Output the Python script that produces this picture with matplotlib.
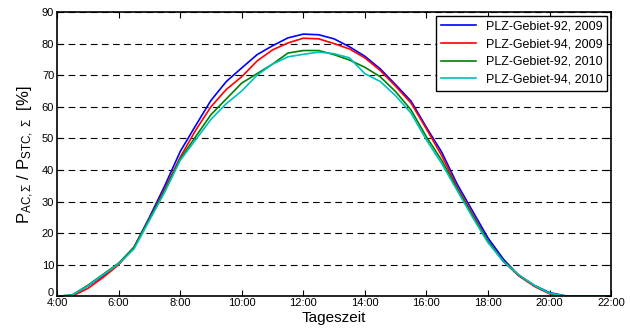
import numpy as np
import matplotlib
matplotlib.use("Agg")
import matplotlib.pyplot as plt
from matplotlib.ticker import MultipleLocator, FuncFormatter

plt.rcParams['font.family'] = ['Liberation Sans', 'DejaVu Sans']
plt.rcParams['mathtext.fontset'] = 'custom'
plt.rcParams['mathtext.rm'] = 'Liberation Sans'
plt.rcParams['mathtext.it'] = 'Liberation Sans:italic'

# time of day in hours (half-hour steps)
hours = [4.0, 4.5, 5.0, 5.5, 6.0, 6.5, 7.0, 7.5, 8.0, 8.5, 9.0, 9.5, 10.0, 10.5,
         11.0, 11.5, 12.0, 12.5, 13.0, 13.5, 14.0, 14.5, 15.0, 15.5, 16.0, 16.5,
         17.0, 17.5, 18.0, 18.5, 19.0, 19.5, 20.0, 20.5, 21.0, 21.5, 22.0]

# P_AC / P_STC in %
plz92_2009 = [0, 0.3, 3.3, 6.5, 10.3, 15.5, 25.0, 35.0, 45.8, 54.0, 62.0, 68.0, 72.3, 76.5,
              79.3, 81.8, 83.0, 82.8, 81.5, 79.0, 76.0, 72.0, 67.0, 61.8, 53.5, 45.6,
              35.5, 27.0, 18.5, 11.8, 6.6, 3.5, 1.2, 0.2, 0, 0, 0]
plz94_2009 = [0, 0.1, 2.5, 6.0, 10.0, 15.5, 24.5, 34.0, 44.0, 52.5, 60.0, 65.5, 69.5, 74.5,
              78.0, 80.2, 81.7, 81.5, 80.0, 78.3, 75.5, 71.5, 66.5, 61.2, 53.0, 44.5,
              34.5, 26.0, 17.5, 11.0, 6.5, 3.2, 0.8, 0, 0, 0, 0]
plz92_2010 = [0, 0.5, 3.5, 7.0, 10.5, 15.5, 24.5, 33.5, 43.5, 50.5, 57.5, 62.5, 67.5, 70.5,
              73.5, 77.0, 77.8, 77.8, 76.5, 74.8, 72.5, 69.5, 64.8, 59.0, 50.5, 43.0,
              34.0, 25.5, 17.5, 11.2, 6.8, 3.5, 1.0, 0, 0, 0, 0]
plz94_2010 = [0, 0.4, 3.3, 6.8, 10.3, 15.0, 24.0, 33.0, 43.0, 49.5, 56.0, 61.0, 65.0, 70.0,
              73.5, 75.8, 76.6, 77.3, 76.8, 75.5, 70.5, 68.0, 63.5, 58.0, 49.5, 42.0,
              33.5, 25.0, 17.0, 11.0, 6.8, 3.5, 1.0, 0.2, 0, 0, 0]

labels = ['PLZ-Gebiet-92, 2009', 'PLZ-Gebiet-94, 2009',
          'PLZ-Gebiet-92, 2010', 'PLZ-Gebiet-94, 2010']
series = [plz92_2009, plz94_2009, plz92_2010, plz94_2010]
colors = ['#0000ff', '#ff0000', '#008000', '#00bfbf']

xticks = [4, 6, 8, 10, 12, 14, 16, 18, 20, 22]
xticklabels = ['4:00', '6:00', '8:00', '10:00', '12:00', '14:00', '16:00', '18:00', '20:00', '22:00']

fig = plt.figure(figsize=(6.3, 3.33), dpi=100)
ax = fig.add_axes([0.0905, 0.11, 0.8795, 0.854])

for y, c, lab in zip(series, colors, labels):
    ax.plot(hours, y, color=c, lw=1.2, label=lab)

ax.set_xlim(4, 22)
ax.set_ylim(0, 90)
ax.set_xticks(xticks)
ax.set_xticklabels(xticklabels)
ax.yaxis.set_major_locator(MultipleLocator(10))
# the "0" label is drawn separately, a bit higher, so it does not run into "4:00"
ax.yaxis.set_major_formatter(FuncFormatter(lambda v, p: '' if v == 0 else f'{v:.0f}'))
ax.annotate('0', xy=(0, 0), xycoords='axes fraction', xytext=(-2.5, 2.5),
            textcoords='offset points', ha='right', va='center', fontsize=8)
ax.yaxis.grid(True, linestyle=(0, (6, 4)), color='black', lw=0.8)
ax.tick_params(direction='in', top=True, right=True, labelsize=8, length=4)
ax.tick_params(axis='x', pad=1)
ax.tick_params(axis='y', pad=2)
for s in ax.spines.values():
    s.set_linewidth(1.2)

ax.set_xlabel('Tageszeit', fontsize=11, labelpad=2)
ax.set_ylabel(r'$\mathrm{P}_{\mathrm{AC,}\Sigma}$ / $\mathrm{P}_{\mathrm{STC,}\ \Sigma}$  [%]',
              fontsize=12, labelpad=4)

leg = ax.legend(loc='upper right', fontsize=9, frameon=True, fancybox=False,
                edgecolor='black', framealpha=1, handlelength=2.8,
                labelspacing=0.45, borderaxespad=0.3, borderpad=0.4)
leg.get_frame().set_linewidth(1.0)

fig.savefig('out.png', dpi=100)
